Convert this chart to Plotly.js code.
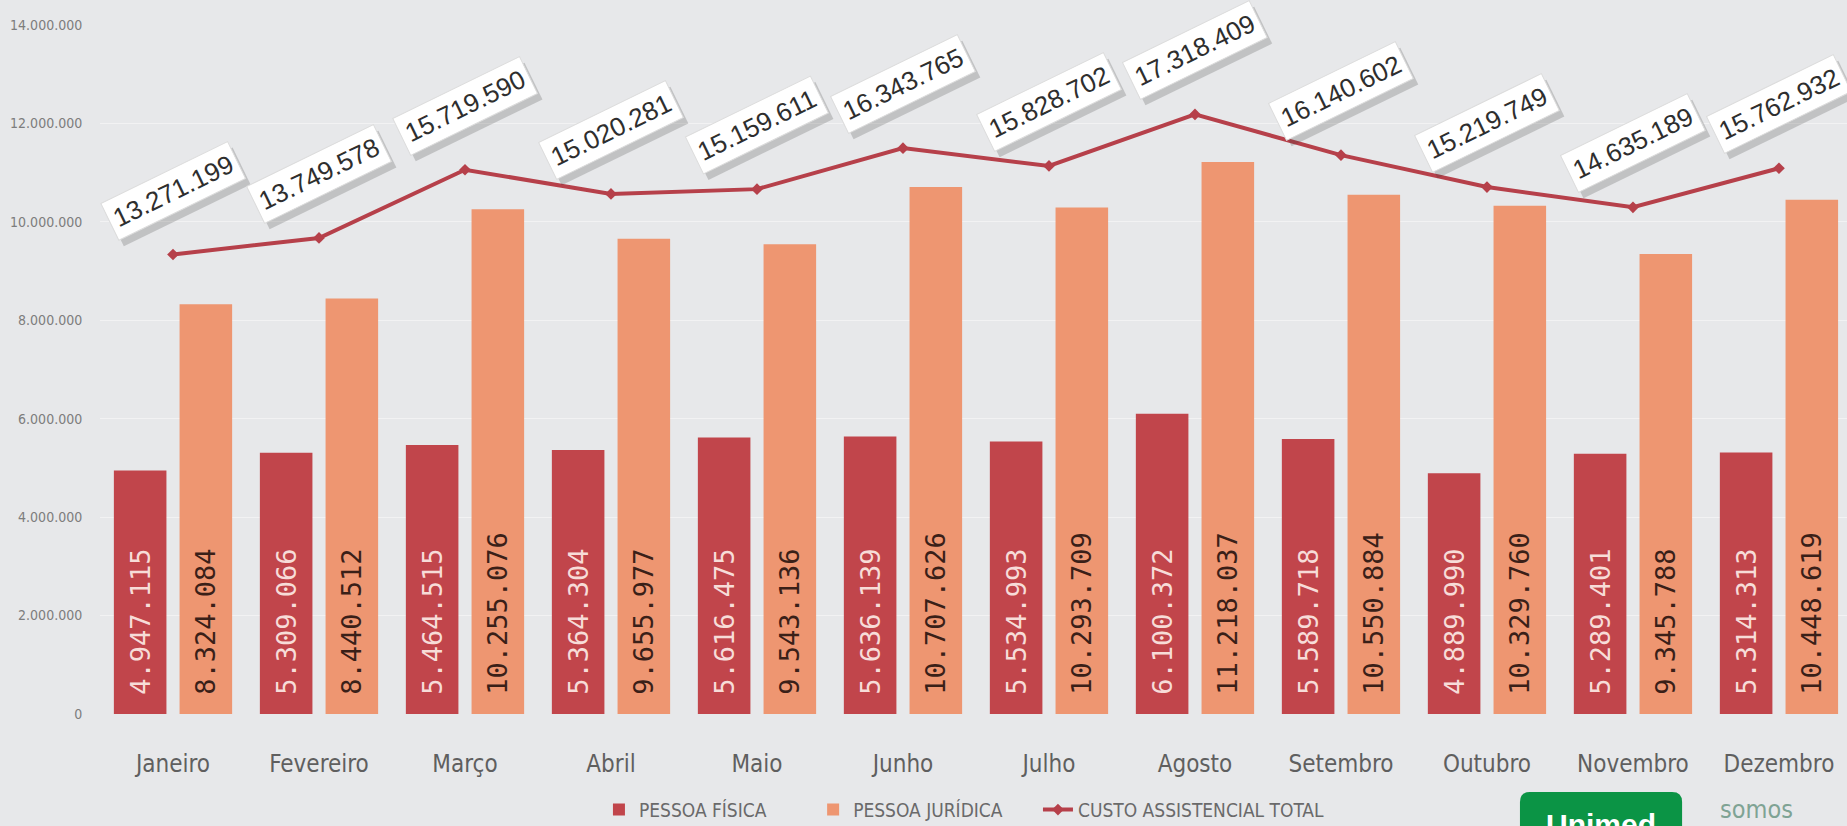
<!DOCTYPE html>
<html>
<head>
<meta charset="utf-8">
<script src="https://cdn.plot.ly/plotly-3.0.1.min.js"></script>
<style>
html,body{margin:0;padding:0;background:#e7e8ea;}
#chart{width:1847px;height:826px;}
</style>
</head>
<body>
<div id="chart"></div>
<script>
const meses = ['Janeiro','Fevereiro','Março','Abril','Maio','Junho','Julho','Agosto','Setembro','Outubro','Novembro','Dezembro'];
const pessoaFisica = [4947115, 5309066, 5464515, 5364304, 5616475, 5636139, 5534993, 6100372, 5589718, 4889990, 5289401, 5314313];
const pessoaJuridica = [8324084, 8440512, 10255076, 9655977, 9543136, 10707626, 10293709, 11218037, 10550884, 10329760, 9345788, 10448619];
const custoTotal = [13271199, 13749578, 15719590, 15020281, 15159611, 16343765, 15828702, 17318409, 16140602, 15219749, 14635189, 15762932];
const yTicks = [0, 2000000, 4000000, 6000000, 8000000, 10000000, 12000000, 14000000];

const NARROW = "'Liberation Sans Narrow', 'DejaVu Sans Condensed', 'Arial Narrow', sans-serif";
const fmt = v => String(v).replace(/\B(?=(\d{3})+(?!\d))/g, '.');

const traces = [
  {
    type: 'bar', name: 'PESSOA FÍSICA', x: meses, y: pessoaFisica, legend: 'legend',
    marker: {color: '#c1454b'},
    texttemplate: '\u00a0%{y:,.0f}', textposition: 'inside', insidetextanchor: 'start',
    textangle: -90,
    textfont: {family: "'DejaVu Sans Mono', monospace", size: 27, color: '#f7dcd8'},
    hoverinfo: 'skip'
  },
  {
    type: 'bar', name: 'PESSOA JURÍDICA', x: meses, y: pessoaJuridica, legend: 'legend2',
    marker: {color: '#ee9671'},
    texttemplate: '\u00a0%{y:,.0f}', textposition: 'inside', insidetextanchor: 'start',
    textangle: -90,
    textfont: {family: "'DejaVu Sans Mono', monospace", size: 27, color: '#3a2018'},
    hoverinfo: 'skip'
  },
  {
    type: 'scatter', mode: 'lines+markers', name: 'CUSTO ASSISTENCIAL TOTAL', legend: 'legend3',
    x: meses, y: custoTotal, yaxis: 'y2',
    line: {color: '#b6404a', width: 4},
    marker: {color: '#b6404a', size: 9, symbol: 'diamond'},
    hoverinfo: 'skip'
  }
];

const annotations = [];
// shadows first
meses.forEach((m, i) => {
  annotations.push({
    x: m, y: custoTotal[i], xref: 'x', yref: 'y2', showarrow: false,
    text: fmt(custoTotal[i]), textangle: -26, xshift: 5, yshift: 58,
    font: {family: "'Liberation Sans', Arial, sans-serif", size: 26, color: 'rgba(0,0,0,0)'},
    bgcolor: 'rgba(60,60,60,0.22)', borderpad: 5
  });
});
meses.forEach((m, i) => {
  annotations.push({
    x: m, y: custoTotal[i], xref: 'x', yref: 'y2', showarrow: false,
    text: fmt(custoTotal[i]), textangle: -26, xshift: 0, yshift: 64,
    font: {family: "'Liberation Sans', Arial, sans-serif", size: 26, color: '#2e2e2e'},
    bgcolor: '#ffffff', bordercolor: '#dcdcdc', borderwidth: 1, borderpad: 5
  });
});
// logo texts
annotations.push({
  xref: 'paper', yref: 'paper', x: 0.8592, y: -0.134, xanchor: 'center', yanchor: 'top',
  showarrow: false, text: '<b>Unimed</b>',
  font: {family: "'Liberation Sans', Arial, sans-serif", size: 30, color: '#ffffff'}
});
annotations.push({
  xref: 'paper', yref: 'paper', x: 0.926, y: -0.114, xanchor: 'left', yanchor: 'top',
  showarrow: false, text: 'somos',
  font: {family: NARROW, size: 25, color: '#7fa394'}
});

const legendBase = {
  orientation: 'h', xanchor: 'left', y: -0.139, yanchor: 'middle',
  font: {family: NARROW, size: 19, color: '#6a6a6a'},
  bgcolor: 'rgba(0,0,0,0)', borderwidth: 0
};

const layout = {
  width: 1847, height: 826,
  margin: {l: 100, r: 0, t: 25, b: 112, autoexpand: false},
  paper_bgcolor: '#e7e8ea', plot_bgcolor: '#e7e8ea',
  separators: ',.',
  barmode: 'group', bargap: 0.1, bargroupgap: 0.2,
  showlegend: true,
  legend: Object.assign({}, legendBase, {x: 0.2856}),
  legend2: Object.assign({}, legendBase, {x: 0.4082}),
  legend3: Object.assign({}, legendBase, {x: 0.5369}),
  xaxis: {
    type: 'category', range: [-0.5, 11.466], fixedrange: true,
    showgrid: false, zeroline: false, showline: false,
    ticks: 'outside', ticklen: 28, tickcolor: 'rgba(0,0,0,0)',
    tickfont: {family: NARROW, size: 24, color: '#5f5f5f'}
  },
  yaxis: {
    range: [0, 14000000], tickvals: yTicks, tickformat: ',.0f',
    showgrid: true, gridcolor: '#f2f2f3', gridwidth: 1,
    zeroline: false, showline: false,
    ticks: 'outside', ticklen: 14, tickcolor: 'rgba(0,0,0,0)',
    tickfont: {family: NARROW, size: 14, color: '#7d7d7d'}
  },
  yaxis2: {
    overlaying: 'y', side: 'right', range: [0, 19900000],
    visible: false, showgrid: false, zeroline: false
  },
  shapes: [
    {
      type: 'path', xref: 'paper', yref: 'paper', layer: 'below',
      path: 'M 0.8128,-0.20 L 0.8128,-0.1277 Q 0.8128,-0.1132 0.8185,-0.1132 L 0.8999,-0.1132 Q 0.9056,-0.1132 0.9056,-0.1277 L 0.9056,-0.20 Z',
      fillcolor: '#0b9445', line: {width: 0}
    }
  ],
  annotations: annotations
};

Plotly.newPlot('chart', traces, layout, {displayModeBar: false, staticPlot: true});
</script>
</body>
</html>
